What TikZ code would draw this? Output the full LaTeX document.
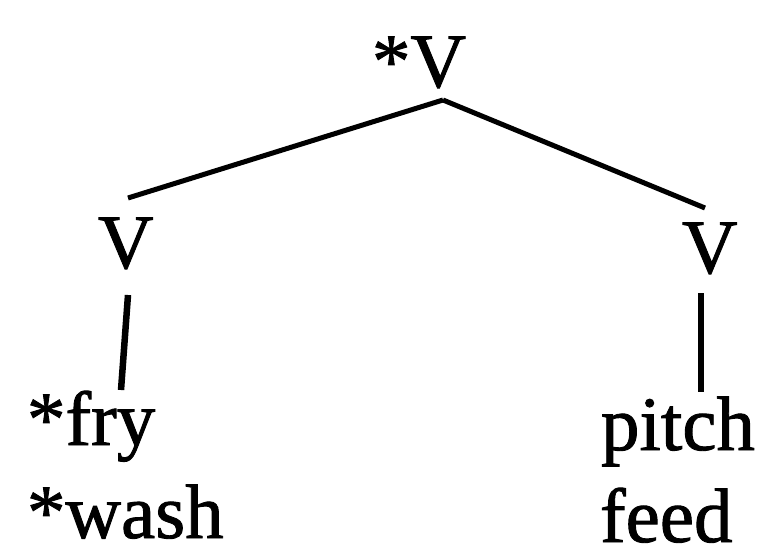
\documentclass[tikz,border=0pt]{standalone}
\usepackage{fontspec}
\setmainfont[FakeBold=1.2]{Liberation Serif}
\begin{document}
\begin{tikzpicture}[x=1pt,y=1pt,
  lbl/.style={inner sep=0pt,outer sep=0pt,anchor=base west,font=\fontsize{77}{90}\selectfont},
  branch/.style={line width=5pt},
  stem/.style={line width=6.5pt}]
\useasboundingbox (0,0) rectangle (760,547);
% labels (y measured upward: y = 547 - image row)
\node[lbl] (root) at (372,460) {*V};
\node[lbl] (vl) at (98,279) {V};
\node[lbl] (vr) at (682,274) {V};
\node[lbl] (fry) at (27,102) {*fry};
\node[lbl] (wash) at (27,9) {*wash};
\node[lbl] (pitch) at (601,97) {pitch};
\node[lbl] (feed) at (600,5) {feed};
% connector end points
\coordinate (apex) at (443,447);
\coordinate (vltop) at (128,349);
\coordinate (vrtop) at (705,339);
\coordinate (vlbot) at (128,252);
\coordinate (frytop) at (121,157);
\coordinate (vrbot) at (701,254);
\coordinate (pitchtop) at (701,155);
\draw[branch] (apex) -- (vltop);
\draw[branch] (apex) -- (vrtop);
\draw[stem] (vlbot) -- (frytop);
\draw[stem] (vrbot) -- (pitchtop);
\end{tikzpicture}
\end{document}
